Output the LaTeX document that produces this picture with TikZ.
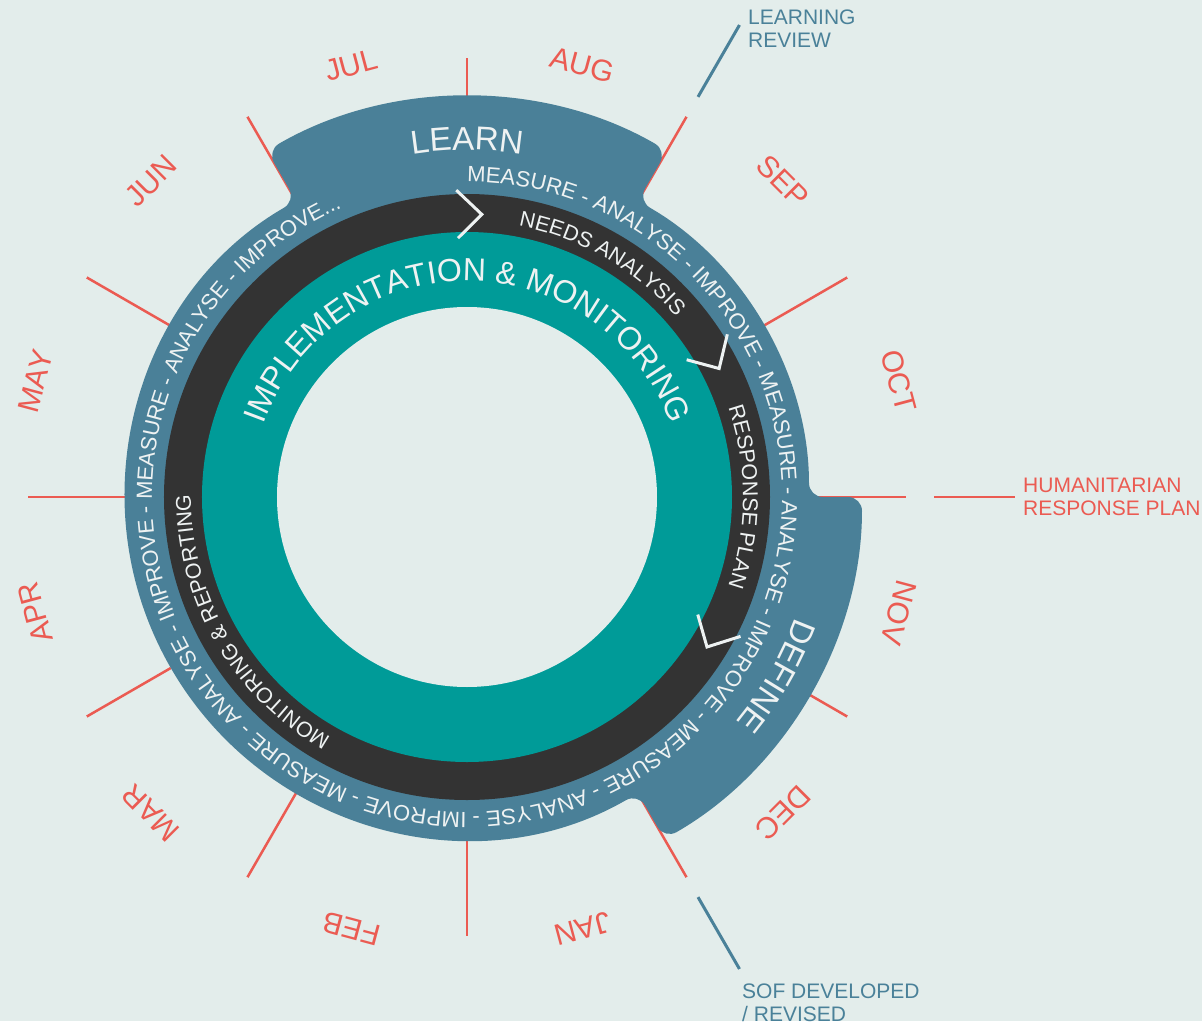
\documentclass[tikz,border=0pt]{standalone}
\usepackage{fontspec}
\setmainfont{Liberation Sans}
\usetikzlibrary{decorations.text}
\definecolor{bgmint}{HTML}{E3EDEB}
\definecolor{ringblue}{HTML}{4A8098}
\definecolor{ringdark}{HTML}{333333}
\definecolor{ringteal}{HTML}{009B98}
\definecolor{monthred}{HTML}{EB5B52}
\definecolor{ringtext}{HTML}{EEF2F2}
\definecolor{noteblue}{HTML}{4A8199}
\newcommand\ringfont{\fontsize{21.5}{21.5}\selectfont}
\newcommand\loopfont{\fontsize{22}{22}\selectfont}
\newcommand\midfont{\fontsize{32}{32}\selectfont}
\newcommand\tabfont{\fontsize{33}{33}\selectfont}
\begin{document}
\begin{tikzpicture}[x=1pt, y=1pt,
    tick/.style={monthred, line width=2.5pt},
    month/.style={monthred, font=\fontsize{30}{30}\selectfont, inner sep=0pt},
    note/.style={font=\fontsize{21}{23}\selectfont, align=left, anchor=north west, inner sep=0pt},
    noteline/.style={noteblue, line width=3pt},
    chev/.style={ringtext, line width=3pt},
    arctext/.style={decorate, decoration={text along path, text align=center, text color=ringtext, text={#1}}}]
    \useasboundingbox (-467,-524) rectangle (735,497);
    \fill[bgmint] (-467,-524) rectangle (735,497);
    \foreach \a in {0,30,...,330}
        \draw[tick] (\a:342) -- (\a:439);
    \fill[ringblue, rounded corners=14pt] (120:400) arc[start angle=120, end angle=60, radius=400]
        -- (60:342) arc[start angle=60, end angle=0, radius=342]
        -- (0:395) arc[start angle=0, end angle=-60, radius=395]
        -- (-60:342) arc[start angle=-60, end angle=-240, radius=342] -- cycle;
    \fill[ringdark] (0,0) circle[radius=303];
    \fill[ringteal] (0,0) circle[radius=265];
    \fill[bgmint] (0,0) circle[radius=190];
    \path[decorate, decoration={text along path, text align=left, text color=ringtext,
        text={|\loopfont|MEASURE - ANALYSE - IMPROVE - MEASURE - ANALYSE - IMPROVE - MEASURE - ANALYSE - IMPROVE - MEASURE - ANALYSE - IMPROVE - MEASURE - ANALYSE - IMPROVE...}}]
        (90:315) arc[start angle=90, end angle=-255, radius=315];
    \path[arctext={|\ringfont|NEEDS ANALYSIS}] (120:276) arc[start angle=120, end angle=0, radius=276];
    \path[arctext={|\ringfont|RESPONSE PLAN}] (60:276) arc[start angle=60, end angle=-60, radius=276];
    \path[arctext={|\ringfont|MONITORING {\&} REPORTING}] (-90:276) arc[start angle=-90, end angle=-210, radius=276];
    \path[arctext={|\midfont|IMPLEMENTATION {\&} MONITORING}] (180:216) arc[start angle=180, end angle=0, radius=216];
    \path[arctext={|\tabfont|LEARN}] (150:347) arc[start angle=150, end angle=30, radius=347];
    \path[arctext={|\tabfont|DEFINE}] (30:350) arc[start angle=30, end angle=-90, radius=350];
    \foreach \b in {92,32,-27}
        \draw[chev] (\b:307) -- ({\b-5}:283) -- (\b:259);
    \foreach \m [count=\i] in {JUL,AUG,SEP,OCT,NOV,DEC,JAN,FEB,MAR,APR,MAY,JUN}
        \node[month, rotate={15-30*(\i-1)}] (m\i) at ({105-30*(\i-1)}:447) {\m};
    \coordinate (lrIn) at (60:462);
    \coordinate (lrOut) at (60:545);
    \coordinate (sofIn) at (-60:462);
    \coordinate (sofOut) at (-60:545);
    \coordinate (hrpIn) at (0:467);
    \coordinate (hrpOut) at (0:548);
    \node[note, text=noteblue] (lr) at (281,487) {LEARNING\\REVIEW};
    \node[note, text=noteblue] (sof) at (275,-487) {SOF DEVELOPED\\/ REVISED};
    \node[note, text=monthred] (hrp) at (556,19) {HUMANITARIAN\\RESPONSE PLAN};
    \draw[noteline] (lrIn) -- (lrOut);
    \draw[noteline] (sofIn) -- (sofOut);
    \draw[tick] (hrpIn) -- (hrpOut);
\end{tikzpicture}
\end{document}
